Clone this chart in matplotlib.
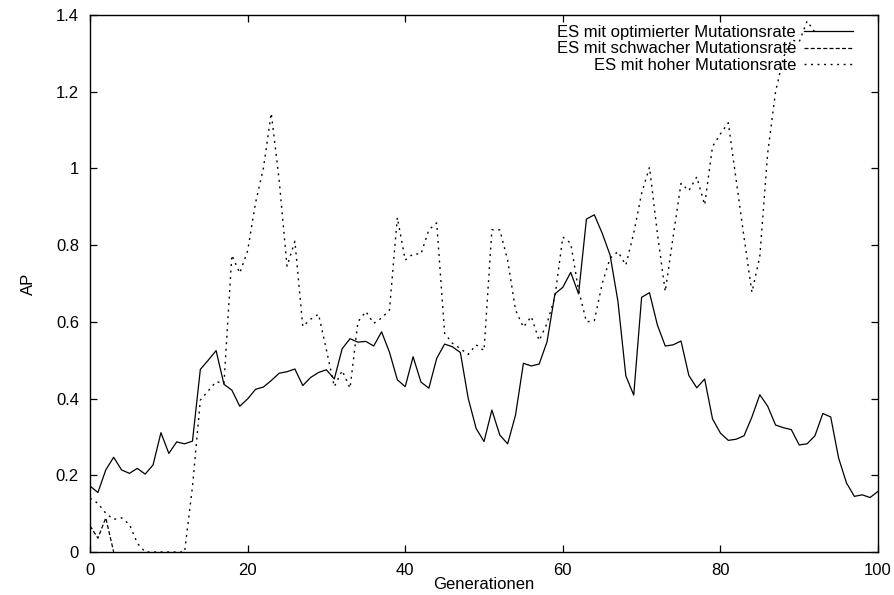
import matplotlib
matplotlib.use("Agg")
import matplotlib.pyplot as plt

plt.rcParams['font.family'] = ['Liberation Sans', 'DejaVu Sans']

# AP per generation
gen_opt = list(range(0, 101))
ap_opt = [0.172, 0.155, 0.214, 0.247, 0.214, 0.205, 0.218, 0.203, 0.227, 0.311,
          0.257, 0.287, 0.282, 0.289, 0.476, 0.500, 0.525, 0.437, 0.422, 0.380,
          0.399, 0.424, 0.430, 0.447, 0.466, 0.470, 0.477, 0.434, 0.455, 0.468,
          0.475, 0.451, 0.530, 0.556, 0.547, 0.549, 0.537, 0.574, 0.521, 0.449,
          0.431, 0.509, 0.443, 0.427, 0.505, 0.542, 0.535, 0.520, 0.400, 0.322,
          0.288, 0.370, 0.305, 0.282, 0.357, 0.492, 0.485, 0.490, 0.548, 0.673,
          0.690, 0.729, 0.673, 0.868, 0.879, 0.831, 0.774, 0.653, 0.459, 0.409,
          0.664, 0.676, 0.592, 0.537, 0.540, 0.550, 0.460, 0.428, 0.451, 0.347,
          0.310, 0.291, 0.294, 0.303, 0.352, 0.410, 0.380, 0.331, 0.324, 0.319,
          0.279, 0.282, 0.303, 0.361, 0.352, 0.245, 0.180, 0.145, 0.149, 0.142,
          0.158]

gen_weak = [0, 1, 2, 3]
ap_weak = [0.068, 0.036, 0.089, 0.0]

gen_high = list(range(0, 93))
ap_high = [0.140, 0.127, 0.101, 0.085, 0.089, 0.072, 0.023, 0.0, 0.0, 0.0,
           0.0, 0.0, 0.0, 0.17, 0.396, 0.42, 0.444, 0.440, 0.774, 0.727,
           0.785, 0.91, 1.00, 1.144, 0.97, 0.745, 0.81, 0.588, 0.607, 0.620,
           0.527, 0.431, 0.473, 0.427, 0.600, 0.627, 0.596, 0.610, 0.631, 0.872,
           0.761, 0.777, 0.777, 0.840, 0.858, 0.570, 0.544, 0.530, 0.515, 0.540,
           0.525, 0.840, 0.840, 0.761, 0.631, 0.586, 0.614, 0.551, 0.596, 0.666,
           0.821, 0.805, 0.683, 0.600, 0.603, 0.700, 0.766, 0.783, 0.748, 0.831,
           0.935, 1.003, 0.831, 0.679, 0.822, 0.961, 0.942, 0.978, 0.905, 1.057,
           1.090, 1.119, 0.97, 0.82, 0.677, 0.77, 1.04, 1.20, 1.29, 1.335,
           1.33, 1.384, 1.355]

fig = plt.figure(figsize=(8.94, 5.95), dpi=100)
ax = fig.add_axes([0.1007, 0.0723, 0.8814, 0.9025])

ax.plot(gen_opt, ap_opt, color="black", lw=0.9, label="ES mit optimierter Mutationsrate")
l2, = ax.plot(gen_weak, ap_weak, color="black", lw=0.9, label="ES mit schwacher Mutationsrate")
l2.set_dashes((3.2, 1.8))
l3, = ax.plot(gen_high, ap_high, color="black", lw=1.0, label="ES mit hoher Mutationsrate")
l3.set_dashes((1.4, 3.3))

ax.set_xlim(0, 100)
ax.set_ylim(0, 1.4)
ax.set_xticks([0, 20, 40, 60, 80, 100])
ax.set_yticks([0, 0.2, 0.4, 0.6, 0.8, 1, 1.2, 1.4])
ax.set_yticklabels(["0", "0.2", "0.4", "0.6", "0.8", "1", "1.2", "1.4"])
ax.tick_params(direction="in", length=5, width=0.9, top=True, right=True, labelsize=12)
ax.tick_params(axis="x", pad=8)
ax.tick_params(axis="y", pad=8)
for s in ax.spines.values():
    s.set_linewidth(1.0)

ax.set_xlabel("Generationen", fontsize=12, labelpad=-1)
ax.set_ylabel("AP", fontsize=12, labelpad=14)

ax.legend(loc="upper right", bbox_to_anchor=(0.968, 0.981), frameon=False,
          markerfirst=False, alignment="right", fontsize=12, handlelength=2.9,
          handletextpad=0.5, labelspacing=0.07, borderaxespad=0, borderpad=0)

plt.savefig("out.png", dpi=100)
